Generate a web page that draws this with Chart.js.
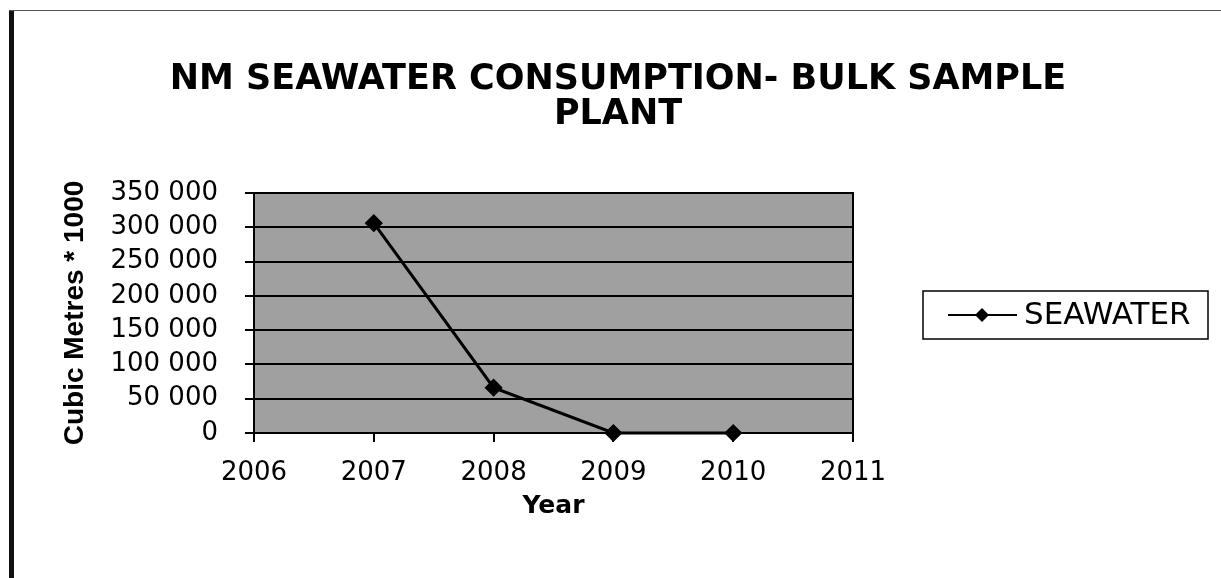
<!DOCTYPE html>
<html>
<head>
<meta charset="utf-8">
<script src="https://cdn.jsdelivr.net/npm/chart.js@4.4.1/dist/chart.umd.min.js"></script>
<style>
  html, body { margin: 0; padding: 0; background: #ffffff; }
  #wrap { position: relative; width: 1221px; height: 578px; }
</style>
</head>
<body>
<div id="wrap"><canvas id="c" width="1221" height="578"></canvas></div>
<script>
// ---- data ----
const chartTitle = ['NM SEAWATER CONSUMPTION- BULK SAMPLE', 'PLANT'];
const seriesName = 'SEAWATER';
const years = [2007, 2008, 2009, 2010];
const seawater = [306000, 66000, 0, 0];
const xTickLabels = ['2006', '2007', '2008', '2009', '2010', '2011'];
const yTickLabels = ['0', '50 000', '100 000', '150 000', '200 000', '250 000', '300 000', '350 000'];
const xAxisTitle = 'Year';
const yAxisTitle = 'Cubic Metres * 1000';

const WIDE = '"DejaVu Sans", sans-serif';
const ARIAL = '"Liberation Sans", Arial, sans-serif';

const decorPlugin = {
  id: 'decor',
  beforeDraw(chart) {
    const ctx = chart.ctx;
    const a = chart.chartArea;
    ctx.save();
    // page frame
    ctx.fillStyle = '#111';
    ctx.fillRect(9, 10, 5, 568);
    ctx.fillStyle = '#555';
    ctx.fillRect(9, 10, 1212, 1);
    // plot background
    ctx.fillStyle = '#a0a0a0';
    ctx.fillRect(a.left, a.top, a.right - a.left, a.bottom - a.top);
    ctx.restore();
  },
  afterDatasetsDraw(chart) {
    const ctx = chart.ctx;
    const a = chart.chartArea;
    ctx.save();
    ctx.strokeStyle = '#000';
    ctx.lineWidth = 2;
    ctx.beginPath();
    ctx.moveTo(a.left, a.top);
    ctx.lineTo(a.right, a.top);
    ctx.lineTo(a.right, a.bottom);
    ctx.stroke();
    ctx.restore();
  },
  afterDraw(chart) {
    const ctx = chart.ctx;
    ctx.save();
    // title
    ctx.fillStyle = '#000';
    ctx.textAlign = 'center';
    ctx.textBaseline = 'middle';
    ctx.font = 'bold 35px ' + WIDE;
    ctx.fillText(chartTitle[0], 618, 80);
    ctx.fillText(chartTitle[1], 618, 115);
    // legend
    const ds = chart.data.datasets[0];
    ctx.strokeStyle = '#000';
    ctx.lineWidth = 1.5;
    ctx.strokeRect(923, 291, 285, 48);
    const ly = 315;
    ctx.lineWidth = 2;
    ctx.beginPath();
    ctx.moveTo(948, ly);
    ctx.lineTo(1017, ly);
    ctx.stroke();
    ctx.fillStyle = '#000';
    ctx.beginPath();
    ctx.moveTo(982, ly - 7);
    ctx.lineTo(989, ly);
    ctx.lineTo(982, ly + 7);
    ctx.lineTo(975, ly);
    ctx.closePath();
    ctx.fill();
    ctx.textAlign = 'left';
    ctx.font = '31px ' + WIDE;
    ctx.fillText(ds.label, 1024, ly + 1);
    ctx.restore();
  }
};

new Chart(document.getElementById('c'), {
  type: 'line',
  data: {
    datasets: [{
      label: seriesName,
      data: years.map((x, i) => ({ x: x, y: seawater[i] })),
      borderColor: '#000',
      backgroundColor: '#000',
      borderWidth: 3,
      pointStyle: 'rectRot',
      pointRadius: 7,
      pointHoverRadius: 7,
      tension: 0,
      clip: false
    }]
  },
  options: {
    responsive: false,
    animation: false,
    events: [],
    layout: { padding: { left: 54, top: 193, right: 368, bottom: 52 } },
    plugins: { legend: { display: false }, title: { display: false }, tooltip: { enabled: false } },
    scales: {
      x: {
        type: 'linear',
        min: 2006, max: 2011,
        afterBuildTicks(scale) { scale.ticks = xTickLabels.map(t => ({ value: Number(t) })); },
        afterFit(scale) { scale.height = 93; },
        ticks: {
          color: '#000',
          font: { family: WIDE, size: 26 },
          padding: 16,
          maxRotation: 0,
          autoSkip: false,
          callback: (v, i) => xTickLabels[i]
        },
        grid: { drawOnChartArea: false, color: '#000', lineWidth: 2, tickLength: 9 },
        border: { color: '#000', width: 2 },
        title: { display: true, text: xAxisTitle, color: '#000', font: { family: WIDE, size: 25, weight: 'bold' }, padding: 5 }
      },
      y: {
        min: 0, max: 350000,
        afterBuildTicks(scale) { scale.ticks = yTickLabels.map((t, i) => ({ value: i * 50000 })); },
        afterFit(scale) { scale.width = 200; },
        ticks: {
          color: '#000',
          font: { family: WIDE, size: 26 },
          padding: 27,
          autoSkip: false,
          callback: (v, i) => yTickLabels[i]
        },
        grid: { color: '#000', lineWidth: 2, tickLength: 9 },
        border: { color: '#000', width: 2 },
        title: { display: true, text: yAxisTitle, color: '#000', font: { family: ARIAL, size: 28, weight: 'bold' }, padding: 4 }
      }
    }
  },
  plugins: [decorPlugin]
});
</script>
</body>
</html>
